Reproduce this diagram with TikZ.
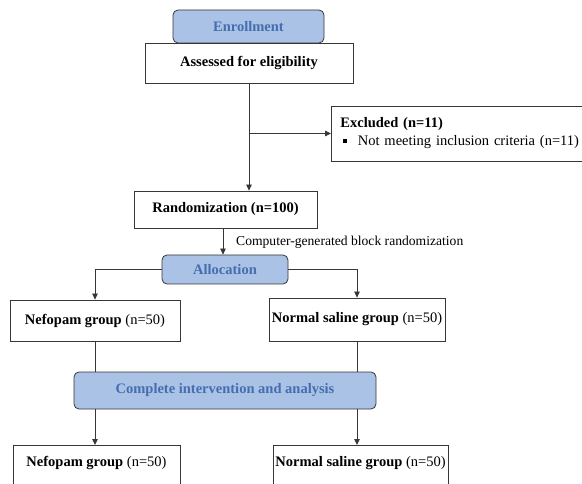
\documentclass[tikz,border=0pt]{standalone}
\usepackage{fontspec}
\setmainfont{Liberation Serif}
\usetikzlibrary{arrows.meta,calc}
\definecolor{phasefill}{RGB}{170,194,229}
\definecolor{phasetext}{RGB}{68,110,175}
\definecolor{edgegray}{RGB}{55,55,55}
\tikzset{
  x=1pt,y=-1pt,
  box/.style={draw=edgegray,line width=0.8pt,fill=white,inner sep=2pt,font=\fontsize{14.5}{17}\selectfont\bfseries},
  phase/.style={draw=edgegray,line width=0.8pt,fill=phasefill,rounded corners=5pt,text=phasetext,inner sep=2pt,font=\fontsize{14.5}{17}\selectfont\bfseries},
  conn/.style={draw=edgegray,line width=0.8pt},
  arr/.style={conn,-{Triangle[length=6pt,width=5.5pt]}},
}
\begin{document}
\begin{tikzpicture}
\useasboundingbox (0,0) rectangle (582,484);
\clip (0,0) rectangle (582,484);
% boxes
\node[box,minimum width=208,minimum height=40] (assess) at (249,63) {Assessed for eligibility};
\node[phase,minimum width=151,minimum height=33] (enroll) at (248.5,26.5) {Enrollment};
\node[box,minimum width=275,minimum height=55,anchor=west,align=left,text width=260,font=\fontsize{14.5}{18}\selectfont,inner sep=0pt] (excl) at (331,133.5)
  {\hspace*{1.5pt}\textbf{Excluded (n=11)}\\\hspace*{4.5pt}\raisebox{2.5pt}{\rule{4pt}{4pt}}\hspace{10.5pt}Not meeting inclusion criteria (n=11)};
\node[box,minimum width=183,minimum height=37] (rand) at (225.5,209.5) {Randomization (n=100)};
\node[phase,minimum width=126,minimum height=29] (alloc) at (225,269.5) {Allocation};
\node[anchor=west,inner sep=0pt,font=\fontsize{13.6}{16}\selectfont] (cgbr) at (236,242) {Computer-generated block randomization};
\node[box,minimum width=170,minimum height=41] (nef1) at (95,320.5) {Nefopam group \mdseries(n=50)};
\node[box,minimum width=176,minimum height=43] (ns1) at (357,319.5) {Normal saline group \mdseries(n=50)};
\node[phase,minimum width=302,minimum height=37] (comp) at (225,390.5) {Complete intervention and analysis};
\node[box,minimum width=167,minimum height=50,anchor=north] (nef2) at (96.5,445) {};
\node[font=\fontsize{14.5}{17}\selectfont\bfseries,inner sep=0pt] (nef2t) at ([yshift=-18]nef2.north) {Nefopam group \mdseries(n=50)};
\node[box,minimum width=175,minimum height=50,anchor=north] (ns2) at (360.5,445) {};
\node[font=\fontsize{14.5}{17}\selectfont\bfseries,inner sep=0pt] (ns2t) at ([yshift=-18]ns2.north) {Normal saline group \mdseries(n=50)};
% connectors
\draw[arr] (assess.south) -- (assess.south |- rand.north);
\coordinate (br) at (assess.south |- excl.west);
\draw[arr] (br) -- (excl.west);
\draw[arr] (rand.south -| 223,0) -- (alloc.north -| 223,0);
\draw[arr] (alloc.west) -| (nef1.north);
\draw[arr] (alloc.east) -| (ns1.north);
\draw[conn] (nef1.south) -- (nef1.south |- comp.north);
\draw[conn] (ns1.south) -- (ns1.south |- comp.north);
\draw[arr] (comp.south -| nef1.south) -- (nef2.north -| nef1.south);
\draw[arr] (comp.south -| ns1.south) -- (ns2.north -| ns1.south);
\end{tikzpicture}
\end{document}
